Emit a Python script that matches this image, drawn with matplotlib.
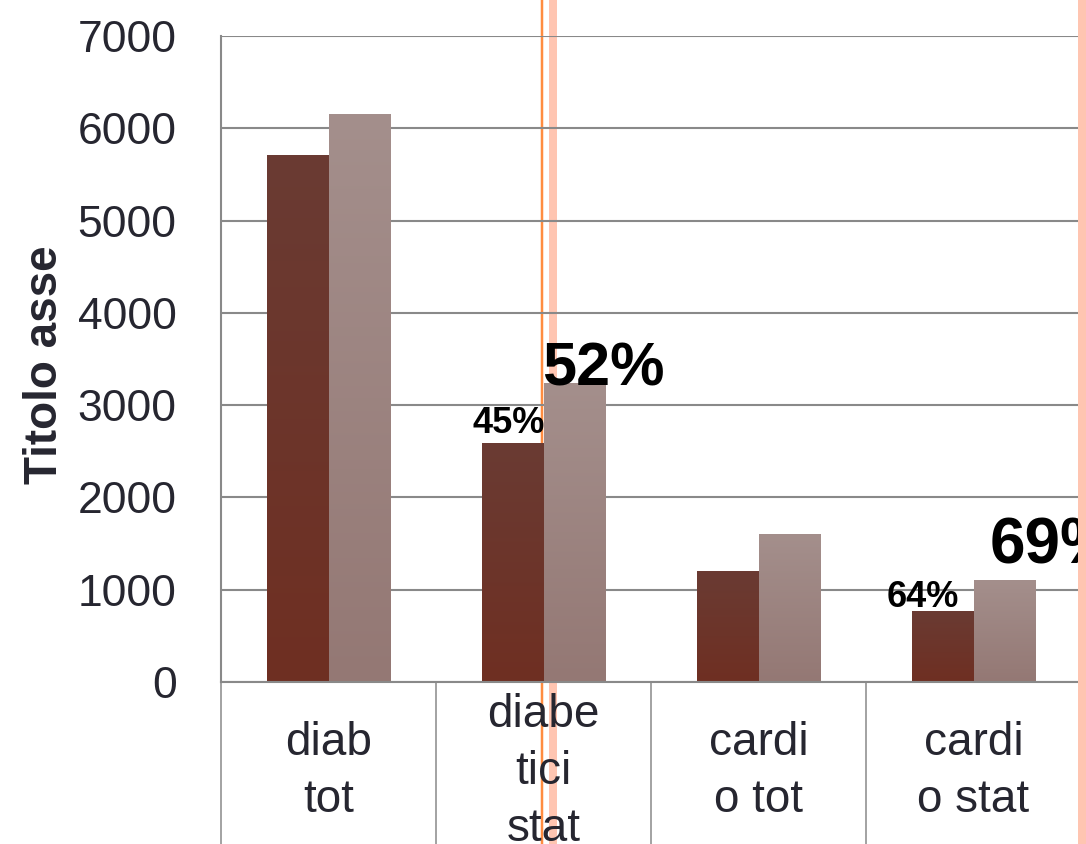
import numpy as np
import matplotlib
matplotlib.use("Agg")
import matplotlib.pyplot as plt
from matplotlib.colors import LinearSegmentedColormap
from matplotlib.lines import Line2D

plt.rcParams["font.family"] = ["Liberation Sans", "DejaVu Sans"]

categorie = ["diab\ntot", "diabe\ntici\nstat", "cardi\no tot", "cardi\no stat"]
serie_scura = [5710, 2590, 1200, 770]
serie_chiara = [6150, 3240, 1600, 1105]
etichette_scura = ["", "45%", "", "64%"]
etichette_chiara = ["", "52%", "", "69%"]
tick_y = [0, 1000, 2000, 3000, 4000, 5000, 6000, 7000]

GRIGIO = "#898989"
TESTO = "#262630"

fig = plt.figure(figsize=(10.86, 8.44), dpi=100)
ax = fig.add_axes([221 / 1086, 162 / 844, 865 / 1086, 646 / 844])

x = np.arange(len(categorie))
larg = 0.288

# orange guide strokes across the whole sheet
def striscia(px, lw_px, colore, z):
    xa = (px - 221) / 865
    ax.add_line(Line2D([xa, xa], [-0.3, 1.1], transform=ax.transAxes,
                       color=colore, lw=lw_px * 0.72, clip_on=False, zorder=z))

striscia(541.5, 2.5, "#FF8C40", 0.5)
striscia(552.5, 8, "#FFC5B1", 0.5)
striscia(1082, 9, "#FFC5B1", 7)

barre_s = ax.bar(x - larg / 2, serie_scura, larg, color="#6C3529", zorder=3)
barre_c = ax.bar(x + larg / 2, serie_chiara, larg, color="#9E8480", zorder=3)

cm_s = LinearSegmentedColormap.from_list("s", ["#6F2F22", "#6A3B33"])
cm_c = LinearSegmentedColormap.from_list("c", ["#947874", "#A48F8C"])
grad = np.linspace(0, 1, 256).reshape(-1, 1)
for barre, cm in ((barre_s, cm_s), (barre_c, cm_c)):
    for b in barre:
        x0, y0 = b.get_x(), b.get_y()
        im = ax.imshow(grad, cmap=cm, origin="lower", aspect="auto",
                       extent=(x0, x0 + b.get_width(), y0, y0 + b.get_height()),
                       zorder=3.1)
        im.set_clip_path(b)
        b.set_facecolor("none")

ax.set_xlim(-0.5, 3.5 + 5 / 215)
ax.set_ylim(0, 7000)
ax.set_yticks(tick_y)
ax.set_yticklabels([str(v) for v in tick_y])
ax.tick_params(axis="y", length=0, pad=32, labelsize=32, labelcolor=TESTO)
ax.set_xticks([])
ax.grid(axis="y", color=GRIGIO, lw=1.5, zorder=1)
ax.set_axisbelow(True)
for s in ("top", "right", "bottom"):
    ax.spines[s].set_visible(False)
ax.spines["left"].set_color(GRIGIO)
ax.spines["left"].set_linewidth(1.5)
ax.axhline(0, color=GRIGIO, lw=1.5, zorder=4, clip_on=False)

ax.set_ylabel("Titolo asse", fontsize=33, fontweight="bold", color=TESTO)
ax.yaxis.set_label_coords(-0.178, 0.491)

# category table under the axis
for xv in np.arange(-0.5, 3.0, 1.0):
    ax.plot([xv, xv], [0, -0.3], color=GRIGIO, lw=1.1,
            transform=ax.get_xaxis_transform(), clip_on=False, zorder=2)
for xi, nome in zip(x, categorie):
    ax.text(xi, -0.139, nome, transform=ax.get_xaxis_transform(),
            ha="center", va="center", fontsize=33, color=TESTO,
            linespacing=1.38)

# percentage labels over the bars
off_s = {1: (-3, 7, 26), 3: (-14, 3, 26)}
off_c = {1: (21, -1.5, 44), 3: (35, 12, 46)}
for i, t in enumerate(etichette_scura):
    if t:
        dx, dy, fs = off_s[i]
        ax.annotate(t, (x[i] - larg / 2, serie_scura[i]), xytext=(dx, dy),
                    textcoords="offset points", ha="center", va="baseline",
                    fontsize=fs, fontweight="bold", color="black", zorder=6,
                    annotation_clip=False)
for i, t in enumerate(etichette_chiara):
    if t:
        dx, dy, fs = off_c[i]
        ax.annotate(t, (x[i] + larg / 2, serie_chiara[i]), xytext=(dx, dy),
                    textcoords="offset points", ha="center", va="baseline",
                    fontsize=fs, fontweight="bold", color="black", zorder=6,
                    annotation_clip=False)

fig.savefig("out.png", dpi=100)
